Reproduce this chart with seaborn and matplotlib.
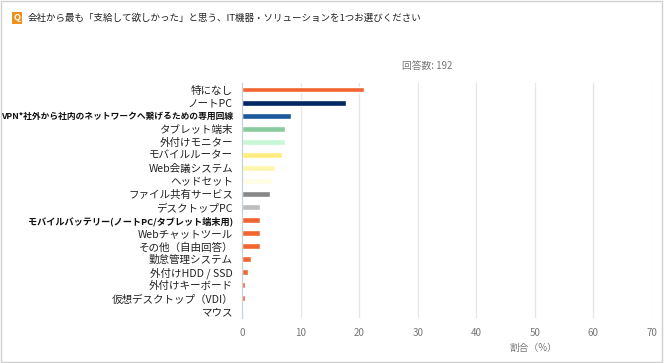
import matplotlib
matplotlib.use("Agg")
import matplotlib.pyplot as plt
import matplotlib.patches as mpatches
import seaborn as sns
import pandas as pd

categories = ["特になし", "ノートPC", "VPN*社外から社内のネットワークへ繋げるための専用回線",
              "タブレット端末", "外付けモニター", "モバイルルーター", "Web会議システム",
              "ヘッドセット", "ファイル共有サービス", "デスクトップPC",
              "モバイルバッテリー(ノートPC/タブレット端末用)", "Webチャットツール",
              "その他（自由回答）", "勤怠管理システム", "外付けHDD / SSD",
              "外付けキーボード", "仮想デスクトップ（VDI）", "マウス"]
values = [20.8, 17.7, 8.3, 7.3, 7.3, 6.8, 5.7, 5.2, 4.7, 3.1, 3.1, 3.1, 3.1, 1.6, 1.0, 0.5, 0.5, 0.0]
colors = ["#F26430", "#002664", "#1A5A9C", "#8ACB9E", "#C8F7D6", "#FFED80", "#FFF6AE",
          "#FFFDE3", "#878787", "#BDBDBD", "#F26430", "#F26430", "#F26430", "#F26430",
          "#F26430", "#F26430", "#F26430", "#F26430"]
xticks = [0, 10, 20, 30, 40, 50, 60, 70]
title = "会社から最も「支給して欲しかった」と思う、IT機器・ソリューションを1つお選びください"
n_text = "回答数: 192"
xlabel = "割合（%）"

sns.set_theme(style="white")
plt.rcParams['font.family'] = ['Noto Sans CJK JP', 'DejaVu Sans']

df = pd.DataFrame({"cat": categories, "val": values})
fig = plt.figure(figsize=(6.64, 3.63), dpi=100)
ax = fig.add_axes([242/664, 1-318/363, (652-242)/664, (318-83)/363])
sns.barplot(data=df, x="val", y="cat", hue="cat", palette=colors, legend=False,
            width=0.45, ax=ax, saturation=1)
ax.set_xlim(0, 70)
ax.set_ylim(len(categories)-0.5, -0.5)
ax.set_xticks(xticks)
ax.set_xticklabels([str(t) for t in xticks], color="#777777", fontsize=7)
ax.tick_params(axis="x", length=4, color="#e3e3e3", pad=3)
ax.tick_params(axis="y", length=0, pad=6.5)
for lab in ax.get_yticklabels():
    txt = lab.get_text()
    if txt.startswith("VPN"):
        lab.set_fontsize(6.3)
        lab.set_fontweight("bold")
        lab.set_color("#111111")
    elif txt.startswith("モバイルバッテリー"):
        lab.set_fontsize(6.6)
        lab.set_fontweight("bold")
        lab.set_color("#111111")
    else:
        lab.set_fontsize(7.6)
        lab.set_color("#222222")
ax.set_yticks([i + 0.5 for i in range(-1, len(categories))], minor=True)
ax.tick_params(axis="y", which="minor", length=3, color="#c5d0e0", width=0.8)
for t in xticks[1:]:
    ax.axvline(t, color="#e6e6e6", lw=0.9, zorder=0)
for s in ["top", "right", "bottom"]:
    ax.spines[s].set_visible(False)
ax.spines["left"].set_color("#c5d0e0")
ax.spines["left"].set_linewidth(0.9)
ax.set_xlabel("")
ax.set_ylabel("")

fig.text(533/664, 1-348/363, xlabel, ha="center", va="center", fontsize=7, color="#777777")
fig.text(427/664, 1-66/363, n_text, ha="center", va="center", fontsize=7, color="#777777")
fig.text(28/664, 1-18/363, title, ha="left", va="center", fontsize=6.85, color="#222222")
fig.patches.append(mpatches.Rectangle((12/664, 1-24/363), 10/664, 12/363,
                   transform=fig.transFigure, facecolor="#F0901E", edgecolor="none"))
fig.text(17/664, 1-18/363, "Q", ha="center", va="center", fontsize=6.5, color="white", fontweight="bold")
fig.patches.append(mpatches.Rectangle((1/664, 1/363), 661/664, 361/363, transform=fig.transFigure,
                   facecolor="none", edgecolor="#d0d0d0", lw=1))
fig.savefig("out.png", dpi=100)
